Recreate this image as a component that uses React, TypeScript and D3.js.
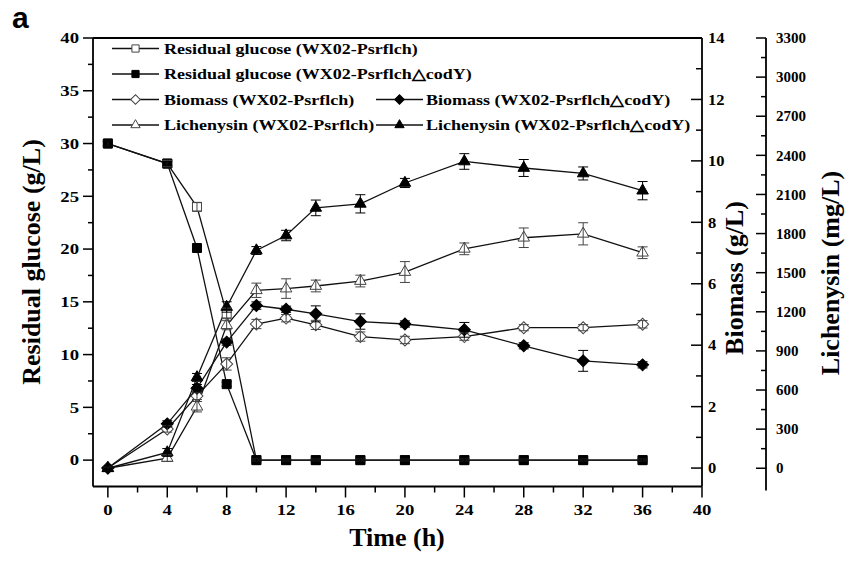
import * as d3 from "d3";

// time points (h)
const times = [0, 4, 6, 8, 10, 12, 14, 17, 20, 24, 28, 32, 36];

// residual glucose (g/L)
const glucoseWT = [30, 28.1, 24.0, 13.9, 0, 0, 0, 0, 0, 0, 0, 0, 0];
const glucoseWTErr = [0.2, 0.3, 0.4, 0.5, 0.1, 0.1, 0.1, 0.1, 0.1, 0.1, 0.1, 0.1, 0.1];
const glucoseMut = [30, 28.1, 20.1, 7.2, 0, 0, 0, 0, 0, 0, 0, 0, 0];
const glucoseMutErr = [0.2, 0.2, 0.2, 0.2, 0.1, 0.1, 0.1, 0.1, 0.1, 0.1, 0.1, 0.1, 0.1];

// biomass (g/L)
const biomassWT = [0, 1.27, 2.35, 3.39, 4.69, 4.88, 4.66, 4.28, 4.17, 4.28, 4.57, 4.57, 4.68];
const biomassWTErr = [0.05, 0.1, 0.12, 0.2, 0.15, 0.12, 0.15, 0.15, 0.12, 0.12, 0.1, 0.1, 0.12];
const biomassMut = [0, 1.44, 2.6, 4.1, 5.29, 5.17, 5.02, 4.77, 4.69, 4.5, 3.98, 3.49, 3.36];
const biomassMutErr = [0.05, 0.1, 0.12, 0.1, 0.12, 0.1, 0.26, 0.25, 0.1, 0.24, 0.1, 0.34, 0.1];

// lichenysin (mg/L)
const lichWT = [0, 78, 472, 1097, 1365, 1378, 1398, 1436, 1505, 1683, 1768, 1798, 1653];
const lichWTErr = [10, 25, 40, 35, 55, 75, 45, 45, 80, 45, 75, 85, 45];
const lichMut = [0, 121, 697, 1237, 1670, 1785, 1997, 2028, 2188, 2353, 2303, 2261, 2129];
const lichMutErr = [10, 30, 30, 40, 30, 40, 60, 70, 35, 60, 65, 50, 70];

// ticks
const xTicks = d3.range(0, 41, 4);
const xMinor = d3.range(2, 40, 4);
const gTicks = d3.range(0, 41, 5);
const gMinor = d3.range(2.5, 40, 5);
const bTicks = d3.range(0, 15, 2);
const bMinor = d3.range(1, 14, 2);
const lTicks = d3.range(0, 3301, 300);
const lMinor = d3.range(150, 3300, 300);

const W = 854;
const H = 562;
const left = 93;
const right = 702;
const top = 38;
const bottom = 486.5;
const lichAxisX = 766;

const serif = "'Liberation Serif', 'Times New Roman', serif";

const x = d3.scaleLinear().domain([-1, 40]).range([left, right]);
const yG = d3.scaleLinear().domain([-2.5, 40]).range([bottom, top]);
const yB = d3.scaleLinear().domain([-0.6, 14]).range([bottom, top]);
const yL = d3.scaleLinear().domain([-140, 3300]).range([bottom, top]);

type Shape = "square" | "diamond" | "triangle";

const series = [
  { name: "Residual glucose (WX02-Psrflch)", vals: glucoseWT, err: glucoseWTErr, y: yG, shape: "square" as Shape, filled: false },
  { name: "Residual glucose (WX02-Psrflch\u25B3codY)", vals: glucoseMut, err: glucoseMutErr, y: yG, shape: "square" as Shape, filled: true },
  { name: "Biomass (WX02-Psrflch)", vals: biomassWT, err: biomassWTErr, y: yB, shape: "diamond" as Shape, filled: false },
  { name: "Biomass (WX02-Psrflch\u25B3codY)", vals: biomassMut, err: biomassMutErr, y: yB, shape: "diamond" as Shape, filled: true },
  { name: "Lichenysin (WX02-Psrflch)", vals: lichWT, err: lichWTErr, y: yL, shape: "triangle" as Shape, filled: false },
  { name: "Lichenysin (WX02-Psrflch\u25B3codY)", vals: lichMut, err: lichMutErr, y: yL, shape: "triangle" as Shape, filled: true },
];

// legend slots: [series index, column, row]
const legendSlots = [
  [0, 0, 0],
  [1, 0, 1],
  [2, 0, 2],
  [4, 0, 3],
  [3, 1, 2],
  [5, 1, 3],
];
const legendRows = [48.5, 74, 99.5, 125];
const legendCols = [
  { x1: 112, x2: 159, tx: 164 },
  { x1: 376, x2: 423, tx: 426 },
];

const symPath = (shape: Shape, scale: number) => {
  if (shape === "square") return d3.symbol(d3.symbolSquare, 81 * scale * scale)();
  if (shape === "diamond") return d3.symbol(d3.symbolSquare, 72 * scale * scale)();
  return d3.symbol(d3.symbolTriangle, 58 * scale * scale)();
};

const Marker = ({ cx, cy, shape, filled, scale = 1 }: any) => (
  <path
    d={symPath(shape, scale) as string}
    transform={`translate(${cx},${cy})${shape === "diamond" ? " rotate(45)" : ""}`}
    fill={filled ? "#000" : "#fff"}
    stroke={filled ? "#000" : "#444"}
    strokeWidth={1}
  />
);

// text stretched horizontally like the source image
const SText = ({ x, y, sx = 1, anchor = "start", size = 15, children }: any) => (
  <g transform={`translate(${x},${y}) scale(${sx},1)`}>
    <text textAnchor={anchor} dy="0.35em" fontFamily={serif} fontWeight="bold" fontSize={size} fill="#000">
      {children}
    </text>
  </g>
);

const App = () => {
  const line = (s: any) =>
    d3
      .line<number>()
      .x((_, i) => x(times[i]))
      .y((v) => s.y(v))(s.vals);

  return (
    <svg width={W} height={H} style={{ position: "absolute", left: 0, top: 0, background: "#fff" }}>
      {/* series lines */}
      {series.map((s, k) => (
        <path key={"l" + k} d={line(s) as string} fill="none" stroke="#111" strokeWidth={1.3} />
      ))}
      {/* markers */}
      {series.map((s, k) => (
        <g key={"m" + k}>
          {s.vals.map((v, i) => (
            <Marker key={i} cx={x(times[i])} cy={s.y(v)} shape={s.shape} filled={s.filled} />
          ))}
        </g>
      ))}
      {/* error bars */}
      {series.map((s, k) => (
        <g key={"e" + k} stroke={s.filled ? "#000" : "#444"} strokeWidth={1}>
          {s.vals.map((v, i) => {
            const cx = x(times[i]);
            const y1 = s.y(v - s.err[i]);
            const y2 = s.y(v + s.err[i]);
            return (
              <g key={i}>
                <line x1={cx} x2={cx} y1={y1} y2={y2} />
                <line x1={cx - 5} x2={cx + 5} y1={y1} y2={y1} />
                <line x1={cx - 5} x2={cx + 5} y1={y2} y2={y2} />
              </g>
            );
          })}
        </g>
      ))}

      {/* frame */}
      <g stroke="#000" strokeWidth={1.8} fill="none">
        <line x1={left} x2={right} y1={top} y2={top} />
        <line x1={left} x2={right} y1={bottom} y2={bottom} />
        <line x1={left} x2={left} y1={top} y2={bottom} />
        <line x1={right} x2={right} y1={top} y2={bottom} />
        <line x1={lichAxisX} x2={lichAxisX} y1={top} y2={bottom + 4} />
      </g>

      {/* bottom axis */}
      <g stroke="#000" strokeWidth={1.5}>
        {xTicks.map((t) => (
          <line key={t} x1={x(t)} x2={x(t)} y1={bottom} y2={bottom + 11} />
        ))}
        {xMinor.map((t) => (
          <line key={t} x1={x(t)} x2={x(t)} y1={bottom} y2={bottom + 6} />
        ))}
      </g>
      {xTicks.map((t) => (
        <SText key={t} x={x(t)} y={510} sx={1.25} anchor="middle" size={15}>
          {t}
        </SText>
      ))}

      {/* left axis */}
      <g stroke="#000" strokeWidth={1.5}>
        {gTicks.map((t) => (
          <line key={t} x1={left - 10} x2={left} y1={yG(t)} y2={yG(t)} />
        ))}
        {gMinor.map((t) => (
          <line key={t} x1={left - 5} x2={left} y1={yG(t)} y2={yG(t)} />
        ))}
      </g>
      {gTicks.map((t) => (
        <SText key={t} x={79} y={yG(t)} sx={1.25} anchor="end" size={15}>
          {t}
        </SText>
      ))}

      {/* biomass axis */}
      <g stroke="#000" strokeWidth={1.5}>
        {bTicks.map((t) => (
          <line key={t} x1={right - 11} x2={right} y1={yB(t)} y2={yB(t)} />
        ))}
        {bMinor.map((t) => (
          <line key={t} x1={right - 6} x2={right} y1={yB(t)} y2={yB(t)} />
        ))}
      </g>
      {bTicks.map((t) => (
        <SText key={t} x={708} y={yB(t)} sx={1.1} size={15}>
          {t}
        </SText>
      ))}

      {/* lichenysin axis */}
      <g stroke="#000" strokeWidth={1.5}>
        {lTicks.map((t) => (
          <line key={t} x1={lichAxisX - 10} x2={lichAxisX} y1={yL(t)} y2={yL(t)} />
        ))}
        {lMinor.map((t) => (
          <line key={t} x1={lichAxisX - 5} x2={lichAxisX} y1={yL(t)} y2={yL(t)} />
        ))}
      </g>
      {lTicks.map((t) => (
        <SText key={t} x={776} y={yL(t)} sx={1} size={15}>
          {t}
        </SText>
      ))}

      {/* axis titles */}
      <text
        transform={`translate(31,262) rotate(-90)`}
        textAnchor="middle"
        dy="0.35em"
        fontFamily={serif}
        fontWeight="bold"
        fontSize={26}
      >
        Residual glucose (g/L)
      </text>
      <text
        transform={`translate(734,278) rotate(-90)`}
        textAnchor="middle"
        dy="0.35em"
        fontFamily={serif}
        fontWeight="bold"
        fontSize={26}
      >
        Biomass (g/L)
      </text>
      <text
        transform={`translate(830,273) rotate(-90)`}
        textAnchor="middle"
        dy="0.35em"
        fontFamily={serif}
        fontWeight="bold"
        fontSize={26}
      >
        Lichenysin (mg/L)
      </text>
      <text x={397} y={546} textAnchor="middle" fontFamily={serif} fontWeight="bold" fontSize={26}>
        Time (h)
      </text>
      <text x={12} y={28} fontFamily="'Liberation Sans', Arial, sans-serif" fontWeight="bold" fontSize={30}>
        a
      </text>

      {/* legend */}
      {legendSlots.map(([si, col, row]) => {
        const s = series[si];
        const c = legendCols[col];
        const cy = legendRows[row];
        return (
          <g key={si}>
            <line x1={c.x1} x2={c.x2} y1={cy} y2={cy} stroke="#111" strokeWidth={1.3} />
            <Marker cx={(c.x1 + c.x2) / 2} cy={cy} shape={s.shape} filled={s.filled} scale={0.8} />
            <SText x={c.tx} y={cy} sx={1.2} size={15}>
              {s.name}
            </SText>
          </g>
        );
      })}
    </svg>
  );
};

export default App;
